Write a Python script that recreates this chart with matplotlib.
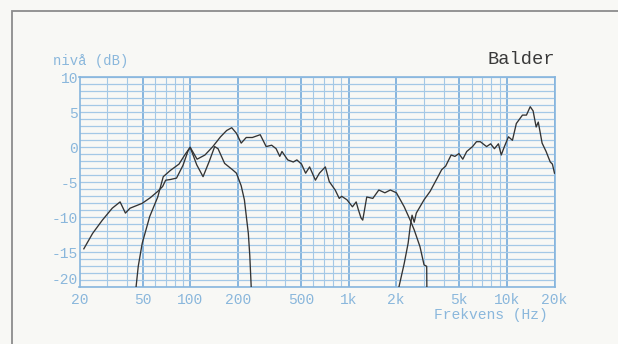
import matplotlib
matplotlib.use("Agg")
import matplotlib.pyplot as plt
from matplotlib.patches import Rectangle
from matplotlib.ticker import NullLocator

# Frequency response curves (Hz, dB)
woofer_f = [21.3, 24.2, 27.9, 32.2, 36.1, 39.0, 41.7, 49.8, 56, 62.4, 67, 70, 75, 82, 90, 97, 100,
            110.6, 124, 139, 155.5, 170, 183, 196, 210, 226, 247, 277, 302, 327, 349, 368, 380,
            413, 448, 472, 505, 536, 568, 618, 655, 714, 756, 824, 874, 906, 978, 1059, 1118,
            1150, 1200, 1230, 1304, 1424, 1554, 1697, 1838, 2007, 2248, 2452, 2600, 2828, 3000,
            3118, 3125]
woofer_db = [-14.5, -12.3, -10.4, -8.7, -7.8, -9.4, -8.7, -8.0, -7.2, -6.3, -5.6, -4.7, -4.6, -4.4,
             -2.6, -0.5, 0.0, -1.7, -1.1, 0.1, 1.5, 2.4, 2.8, 2.0, 0.6, 1.4, 1.4, 1.8, 0.1, 0.3,
             -0.2, -1.3, -0.6, -1.8, -2.1, -1.8, -2.4, -3.7, -2.8, -4.7, -3.7, -2.8, -4.9, -6.1,
             -7.3, -7.0, -7.5, -8.5, -7.8, -8.8, -10.1, -10.4, -7.1, -7.3, -6.1, -6.5, -6.1,
             -6.5, -8.5, -10.4, -11.8, -14.2, -16.8, -17.0, -20.0]

port_f = [45.5, 47, 49.8, 55.5, 62.4, 67.6, 75, 85, 93, 100, 110, 120.6, 132, 142.8, 150, 165,
          185, 196, 210, 220, 228, 233, 238, 243]
port_db = [-20, -17, -13.7, -9.9, -7.1, -4.2, -3.3, -2.4, -1.0, 0.0, -2.5, -4.2, -2.0, 0.1, -0.2,
           -2.3, -3.2, -3.7, -5.5, -7.5, -10.5, -12.3, -15.5, -20]

tweeter_f = [2080, 2248, 2380, 2450, 2520, 2600, 2680, 3000, 3276, 3575, 3876, 4105, 4449, 4700,
             4980, 5270, 5580, 6070, 6430, 6800, 7450, 7900, 8350, 8850, 9220, 9650, 10240,
             10850, 11480, 12550, 13300, 14050, 14650, 15320, 15800, 16700, 17700, 18800,
             19400, 20000]
tweeter_db = [-20, -16.6, -13.7, -11.4, -9.7, -10.7, -9.4, -7.5, -6.3, -4.7, -3.2, -2.7, -1.1,
              -1.3, -0.9, -1.7, -0.6, 0.1, 0.8, 0.8, 0.1, 0.5, -0.2, 0.5, -1.1, 0.1, 1.5, 1.0,
              3.4, 4.6, 4.6, 5.8, 5.2, 2.9, 3.6, 0.6, -0.6, -2.1, -2.4, -3.7]

x_ticks = [20, 50, 100, 200, 500, 1000, 2000, 5000, 10000, 20000]
x_labels = ["20", "50", "100", "200", "500", "1k", "2k", "5k", "10k", "20k"]
y_ticks = [-20, -15, -10, -5, 0, 5, 10]

BG = "#f8f8f5"
BLUE_TXT = "#8ab7dc"
GRID = "#a4c8e6"
GRID_MAJ = "#86b5de"
INK = "#333333"
MONO = ["Liberation Mono", "DejaVu Sans Mono"]

W, H = 618, 344
fig = plt.figure(figsize=(W / 100, H / 100), dpi=100, facecolor=BG)

# outer frame, open towards the right and bottom
fig.patches.append(Rectangle((11.5 / W, -0.2), 1.2, 1.2 - 11.0 / H,
                             transform=fig.transFigure, fill=False,
                             edgecolor="#8c8c8c", linewidth=1.3))

ax = fig.add_axes([79.5 / W, (H - 287.3) / H, 475 / W, 210 / H])
ax.set_facecolor(BG)
ax.set_xscale("log")
ax.set_xlim(20, 20000)
ax.set_ylim(-20, 10)

# grid: every 1 dB, and 1-9 steps per decade
for dec in [10, 100, 1000, 10000]:
    for m in range(1, 10):
        f = dec * m
        if f < 20 or f > 20000:
            continue
        major = f in x_ticks
        ax.axvline(f, color=GRID_MAJ if major else GRID,
                   lw=1.4 if major else 0.8, zorder=1)
for d in range(-20, 11):
    ax.axhline(d, color=GRID, lw=0.9, zorder=1)

for s in ax.spines.values():
    s.set_color(GRID_MAJ)
    s.set_linewidth(1.2)

ax.plot(woofer_f, woofer_db, color=INK, lw=0.95, zorder=3)
ax.plot(port_f, port_db, color=INK, lw=0.95, zorder=3)
ax.plot(tweeter_f, tweeter_db, color=INK, lw=0.95, zorder=3)

ax.set_xticks(x_ticks)
ax.set_xticklabels(x_labels)
ax.xaxis.set_minor_locator(NullLocator())
ax.set_yticks(y_ticks)
ax.set_yticklabels([str(v) for v in y_ticks])
ax.tick_params(length=0, labelsize=10.5, labelcolor=BLUE_TXT)
ax.tick_params(axis="x", pad=4)
ax.tick_params(axis="y", pad=1)
for lab in ax.get_xticklabels() + ax.get_yticklabels():
    lab.set_family(MONO)
# lift the lowest dB label slightly off the frequency label below it
ax.get_yticklabels()[0].set_va("bottom")

fig.text(53 / W, 1 - 61 / H, "nivå (dB)", family=MONO, fontsize=10,
         color=BLUE_TXT, va="center", ha="left")
fig.text(555 / W, 1 - 59 / H, "Balder", family=MONO, fontsize=13.5,
         color="#3a3a3a", va="center", ha="right")
fig.text(548 / W, 1 - 315 / H, "Frekvens (Hz)", family=MONO, fontsize=10.5,
         color=BLUE_TXT, va="center", ha="right")

fig.savefig("out.png", dpi=100, facecolor=BG)
